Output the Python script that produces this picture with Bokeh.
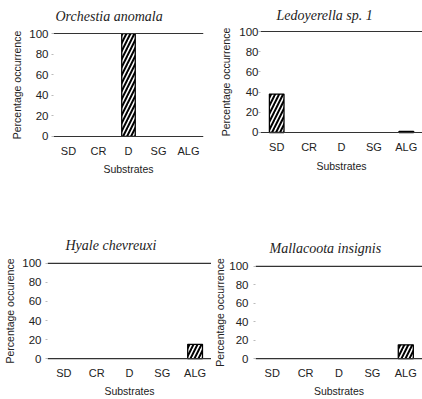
from bokeh.plotting import figure
from bokeh.layouts import column, row
from bokeh.models import Range1d, FixedTicker, Span, Title, ColumnDataSource
from bokeh.embed import file_html
from bokeh.resources import INLINE

substrates = ["SD", "CR", "D", "SG", "ALG"]
y_ticks = [0, 20, 40, 60, 80, 100]

species = ["Orchestia anomala", "Ledoyerella sp. 1", "Hyale chevreuxi", "Mallacoota insignis"]
ylabels = ["Percentage occurrence", "Percentage occurrence", "Percentage occurence", "Percentage occurrence"]
orchestia = [0, 0, 100, 0, 0]
ledoyerella = [38, 0, 0, 0, 1]
hyale = [0, 0, 0, 0, 15]
mallacoota = [0, 0, 0, 0, 15]
values = [orchestia, ledoyerella, hyale, mallacoota]

SANS = "Liberation Sans"
SERIF = "Liberation Serif"

geo = [
    dict(w=211, h=205, bl=53, br=8, bt=31, bb=67, toff=2, tst=12, yls=3, yals=3, xls=6, xals=3),
    dict(w=211, h=205, bl=49, br=0, bt=29, bb=71, toff=16, tst=10, yls=0, yals=4, xls=6, xals=4),
    dict(w=211, h=194, bl=47, br=0, bt=56, bb=37, toff=18, tst=14, yls=4, yals=3, xls=6, xals=3),
    dict(w=211, h=194, bl=43, br=0, bt=59, bb=37, toff=14, tst=14, yls=5, yals=0, xls=6, xals=3),
]

figs = []
for i in range(4):
    g = geo[i]
    p = figure(x_range=substrates, y_range=Range1d(-2, 102),
               width=g["w"], height=g["h"], frame_align=False,
               min_border_left=g["bl"], min_border_right=g["br"],
               min_border_top=g["bt"], min_border_bottom=g["bb"],
               output_backend="svg", toolbar_location=None, title=None)
    p.add_layout(Title(text=species[i], align="left", offset=g["toff"],
                       vertical_align="top", standoff=g["tst"],
                       text_font=SERIF, text_font_style="italic",
                       text_font_size="14px", text_color="#222222"), "above")
    xs = [c for c, v in zip(substrates, values[i]) if v > 0]
    ys = [v for v in values[i] if v > 0]
    src = ColumnDataSource(dict(x=xs, y=ys))
    p.vbar(x="x", top="y", bottom=0, width=0.45, source=src, fill_color="white",
           line_color="black", line_width=1.3,
           hatch_pattern="/", hatch_color="black", hatch_weight=2, hatch_scale=8)
    for v in (0, 100):
        p.add_layout(Span(location=v, dimension="width", line_color="#333333", line_width=1.1))
    p.outline_line_color = None
    p.xgrid.grid_line_color = None
    p.ygrid.grid_line_color = None
    p.background_fill_color = "white"
    p.border_fill_color = "white"

    p.yaxis.ticker = FixedTicker(ticks=y_ticks)
    p.yaxis.axis_line_color = None
    p.yaxis.major_tick_out = 2
    p.yaxis.major_tick_in = 0
    p.yaxis.major_tick_line_color = "#bbbbbb"
    p.yaxis.minor_tick_line_color = None
    p.yaxis.major_label_standoff = g["yls"]
    p.yaxis.major_label_text_font = SANS
    p.yaxis.major_label_text_font_size = "11.5px"
    p.yaxis.major_label_text_color = "#222222"
    p.yaxis.axis_label = ylabels[i]
    p.yaxis.axis_label_text_font = SANS
    p.yaxis.axis_label_text_font_size = "10.5px"
    p.yaxis.axis_label_text_font_style = "normal"
    p.yaxis.axis_label_text_color = "#222222"
    p.yaxis.axis_label_standoff = g["yals"]

    p.xaxis.axis_line_color = None
    p.xaxis.major_tick_line_color = None
    p.xaxis.major_tick_out = 0
    p.xaxis.major_label_standoff = g["xls"]
    p.xaxis.major_label_text_font = SANS
    p.xaxis.major_label_text_font_size = "11px"
    p.xaxis.major_label_text_color = "#222222"
    p.xaxis.axis_label = "Substrates"
    p.xaxis.axis_label_text_font = SANS
    p.xaxis.axis_label_text_font_size = "10.5px"
    p.xaxis.axis_label_text_font_style = "normal"
    p.xaxis.axis_label_text_color = "#222222"
    p.xaxis.axis_label_standoff = g["xals"]
    figs.append(p)

layout = column(row(figs[0], figs[1]), row(figs[2], figs[3]))
open("out.html", "w").write(file_html(layout, INLINE))
